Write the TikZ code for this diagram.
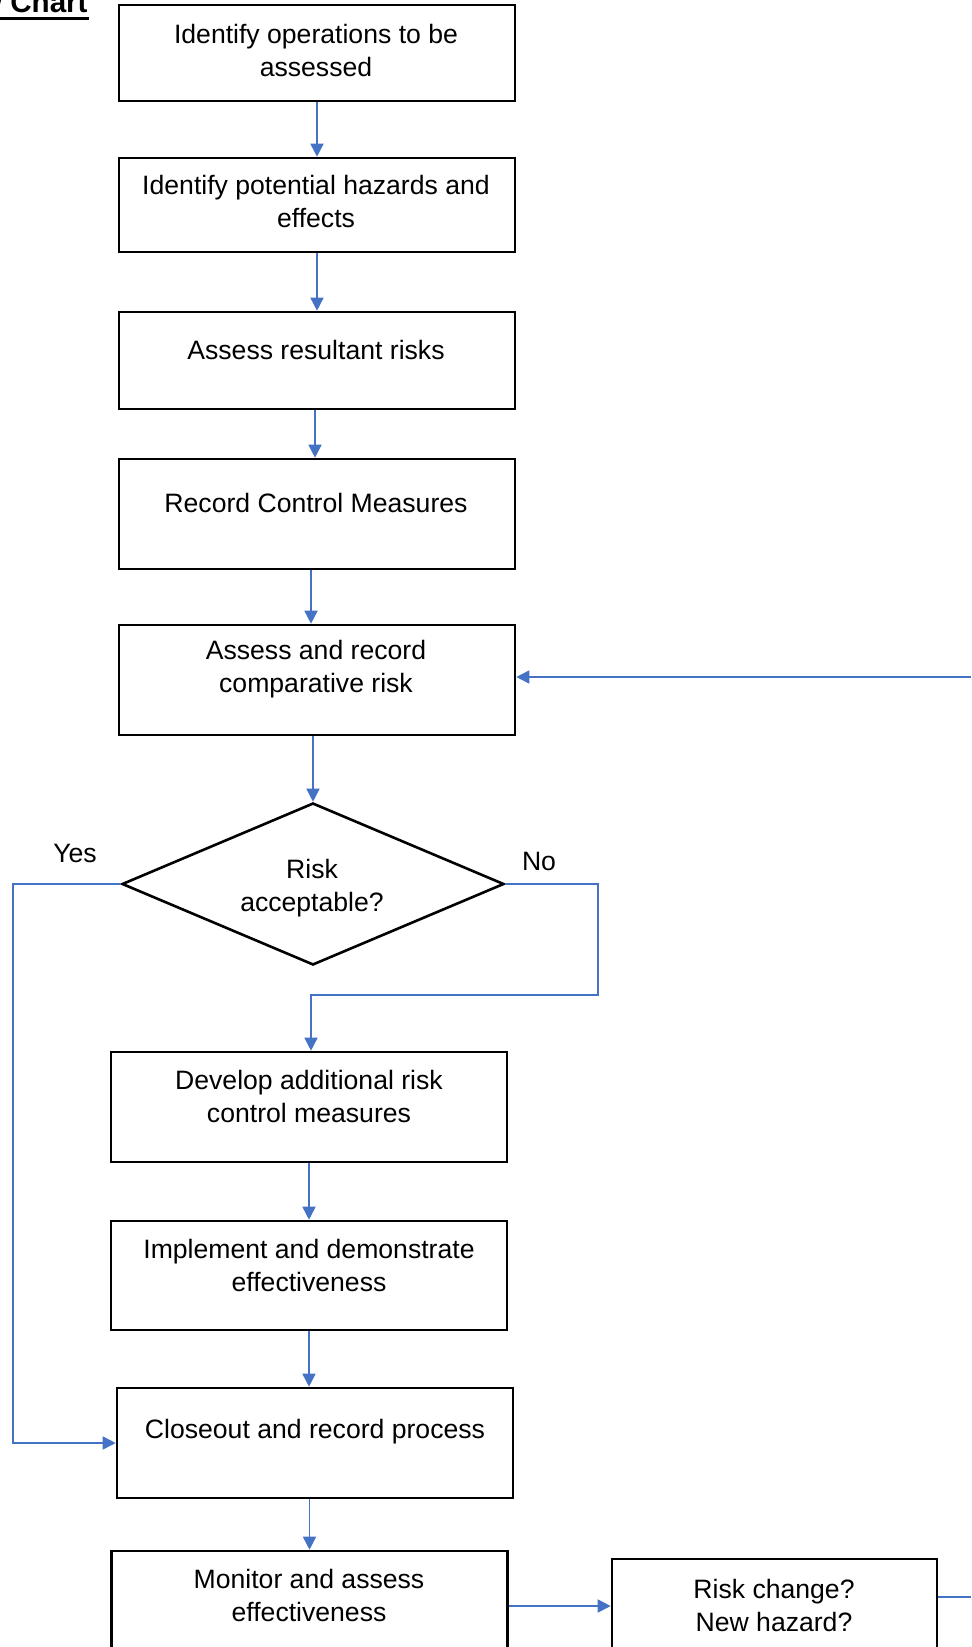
\documentclass[tikz,border=0pt]{standalone}
\usepackage{fontspec}
\setmainfont{Liberation Sans}
\usetikzlibrary{arrows.meta,shapes.geometric}
\definecolor{lineblue}{RGB}{68,114,196}
\tikzset{
  box/.style={draw=black,line width=1.3pt,rectangle,minimum width=198pt,inner sep=0pt},
  txt/.style={align=center,inner sep=0pt,font=\fontsize{13.3pt}{16.5pt}\selectfont},
  conn/.style={draw=lineblue,line width=0.8pt},
  arr/.style={conn,-{Triangle[length=6.5pt,width=6.5pt]}},
}
\begin{document}
\begin{tikzpicture}[x=0.5pt,y=-0.5pt]
\useasboundingbox (0,0) rectangle (971,1647);
\clip (0,0) rectangle (971,1647);
% title
\node[inner sep=0pt,anchor=base east,font=\fontsize{14.8pt}{17pt}\selectfont\bfseries] (title) at (88,13) {Flow Chart};
\draw[line width=1.35pt] ([yshift=-2.6pt]title.base west) -- ([yshift=-2.6pt,xshift=0.5pt]title.base east);
% boxes
\node[box,minimum height=48pt] (b1) at (317,53) {};
\node[box,minimum height=47pt] (b2) at (317,205) {};
\node[box,minimum height=48.5pt] (b3) at (317,360.5) {};
\node[box,minimum height=55pt] (b4) at (317,514) {};
\node[box,minimum height=55pt] (b5) at (317,680) {};
\node[draw=black,line width=1.3pt,diamond,minimum width=191pt,minimum height=81pt,inner sep=0pt] (dia) at (313,884) {};
\node[box,minimum height=55pt] (b6) at (309,1107) {};
\node[box,minimum height=54.5pt] (b7) at (309,1275.5) {};
\node[box,minimum height=55pt] (b8) at (315,1443) {};
\node[box,minimum height=55pt] (b9) at (309.5,1606) {};
\node[box,minimum width=162.5pt,minimum height=55pt] (b10) at (774.5,1614) {};
% texts
\node[txt] (t1) at (316,50) {Identify operations to be\\assessed};
\node[txt] (t2) at (316,201) {Identify potential hazards and\\effects};
\node[txt] (t3) at (316,350) {Assess resultant risks};
\node[txt] (t4) at (316,503) {Record Control Measures};
\node[txt] (t5) at (316,669) {Assess and record\\comparative risk};
\node[txt] (td) at (312,888) {Risk\\acceptable?};
\node[txt] (t6) at (309,1096.5) {Develop additional risk\\control measures};
\node[txt] (t7) at (309,1265) {Implement and demonstrate\\effectiveness};
\node[txt] (t8) at (315,1432) {Closeout and record process};
\node[txt] (t9) at (309,1595.5) {Monitor and assess\\effectiveness};
\node[txt] (t10) at (774,1605) {Risk change?\\New hazard?};
\node[txt] (yes) at (75,853) {Yes};
\node[txt] (no) at (539,861) {No};
% connectors
\draw[arr] (b1.south) -- (b2.north);
\draw[arr] (b2.south) -- (b3.north);
\draw[arr] ([xshift=-1pt]b3.south) -- ([xshift=-1pt]b4.north);
\draw[arr] ([xshift=-3pt]b4.south) -- ([xshift=-3pt]b5.north);
\draw[arr] (b5.south -| dia.north) -- (dia.north);
\coordinate (yesc) at (13,884);
\draw[arr] (dia.west) -- (yesc) |- (b8.west);
\coordinate (noc) at (598,884);
\coordinate (nod) at (598,995);
\draw[arr] (dia.east) -- (noc) -- (nod) -| ([xshift=1pt]b6.north);
\draw[arr] (b6.south) -- (b7.north);
\draw[arr] (b7.south) -- (b7.south |- b8.north);
\draw[arr] (b8.south -| b9.north) -- (b9.north);
\draw[arr] (b9.east) -- (b9.east -| b10.west);
\coordinate (outc) at (971,1597);
\draw[conn] (b10.east |- outc) -- (outc);
\coordinate (ret) at (971,677);
\draw[arr] (ret) -- (ret -| b5.east);
\end{tikzpicture}
\end{document}
